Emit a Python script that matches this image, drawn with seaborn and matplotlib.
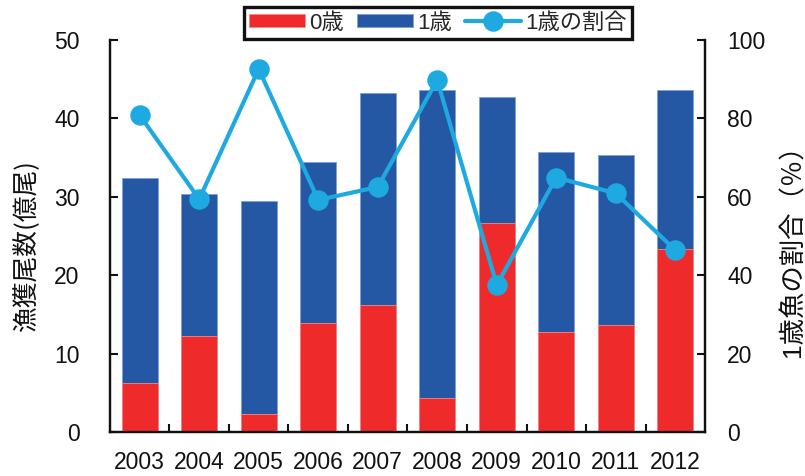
import matplotlib
matplotlib.use("Agg")
import matplotlib.pyplot as plt
import seaborn as sns
import numpy as np

# Catch of sardine-like fish by age class (100 million fish) and share of age-1 fish
years = ["2003", "2004", "2005", "2006", "2007", "2008", "2009", "2010", "2011", "2012"]
age0 = [6.3, 12.3, 2.3, 13.9, 16.2, 4.4, 26.7, 12.75, 13.7, 23.3]
age1 = [26.1, 18.1, 27.2, 20.6, 27.0, 39.2, 16.0, 23.0, 21.6, 20.3]
age1_share = [80.8, 59.4, 92.6, 59.2, 62.5, 89.8, 37.5, 64.9, 60.9, 46.4]

RED = "#EE2A2B"
BLUE = "#2457A4"
CYAN = "#1EAAE1"

sns.set_theme(style="white")
plt.rcParams["font.family"] = ["Liberation Sans", "Noto Sans CJK JP"]

fig = plt.figure(figsize=(8.05, 4.76), dpi=100)
ax = fig.add_axes([0.1366, 0.0924, 0.7392, 0.8236])

totals = [a + b for a, b in zip(age0, age1)]

# stacked bars: total height in blue, the age-0 part drawn over it in red
sns.barplot(x=years, y=totals, color=BLUE, saturation=1, width=0.6,
            edgecolor="#7f9fd4", linewidth=0.6, label="1歳", ax=ax, zorder=2)
sns.barplot(x=years, y=age0, color=RED, saturation=1, width=0.6,
            edgecolor="#f58a8a", linewidth=0.6, label="0歳", ax=ax, zorder=3)

ax2 = ax.twinx()
sns.pointplot(x=years, y=age1_share, color=CYAN, markers="o", markersize=12.5,
              linewidth=3, label="1歳の割合", ax=ax2, zorder=5)

ax.set_xlim(-0.5, 9.5)
ax.set_ylim(0, 50)
ax2.set_ylim(0, 100)
ax.set_yticks(range(0, 51, 10))
ax2.set_yticks(range(0, 101, 20))

for a in (ax, ax2):
    a.spines["top"].set_visible(False)
    for s in ("left", "right", "bottom"):
        a.spines[s].set_linewidth(1.6)
        a.spines[s].set_color("#111111")
    a.grid(False)

ax.tick_params(axis="y", direction="in", length=6, width=1.5, labelsize=16.5,
               pad=22, colors="#111111", left=True)
ax2.tick_params(axis="y", direction="in", length=6, width=1.5, labelsize=16.5,
                pad=16, colors="#111111", right=True)
ax.tick_params(axis="x", which="major", length=0, labelsize=16.5, pad=14,
               colors="#111111")
ax.set_xticks(np.arange(0.5, 9.5, 1.0), minor=True)
ax.tick_params(axis="x", which="minor", direction="in", length=6, width=1.5,
               bottom=True, colors="#111111")
ax2.set_xlabel("")

ax.set_ylabel("漁獲尾数(億尾)", fontsize=18.5, family=["Noto Sans CJK JP"],
              color="#111111")
ax.yaxis.set_label_coords(-0.118, 0.474)
ax2.set_ylabel("1歳魚の割合（％）", fontsize=19,
               family=["Liberation Sans", "Noto Sans CJK JP"], color="#111111")
ax2.yaxis.set_label_coords(1.126, 0.48)

if ax.get_legend() is not None:
    ax.get_legend().remove()
h1, l1 = ax.get_legend_handles_labels()
h2, l2 = ax2.get_legend_handles_labels()
hd = dict(zip(l1 + l2, h1 + h2))
order = ["0歳", "1歳", "1歳の割合"]
leg = ax2.legend([hd[k] for k in order], order, ncol=3, loc="upper center",
                 bbox_to_anchor=(438 / 805, 1 - 7 / 476),
                 bbox_transform=fig.transFigure, fontsize=16, frameon=True,
                 fancybox=False, framealpha=1, edgecolor="#111111",
                 handlelength=2.5, handleheight=0.55, handletextpad=0.2,
                 columnspacing=0.6, borderpad=0.25, borderaxespad=0)
leg.get_frame().set_linewidth(2.4)
leg.set_zorder(10)
for t in leg.get_texts():
    t.set_family(["Liberation Sans", "Noto Sans CJK JP"])

fig.savefig("out.png", dpi=100)
